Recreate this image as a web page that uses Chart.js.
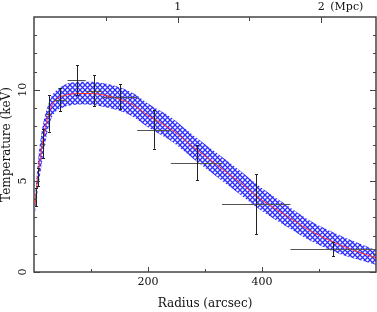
<!DOCTYPE html>
<html><head><meta charset="utf-8">
<script src="https://cdn.jsdelivr.net/npm/chart.js@4/dist/chart.umd.min.js"></script>
<style>html,body{margin:0;padding:0;background:#fff;}#wrap{width:377px;height:312px;}</style>
</head><body><div id="wrap"><canvas id="c" width="377" height="312"></canvas></div>
<script>
// Model profile (arcsec) and temperature band (keV)
const modelR = [2, 5, 8, 12, 17, 23, 30, 40, 52, 65, 80, 100, 125, 150, 175, 200, 240, 280, 320, 360, 400, 440, 480, 520, 560, 600];
const modelT = [3.7, 4.7, 5.5, 6.5, 7.45, 8.35, 9.05, 9.5, 9.68, 9.77, 9.8, 9.8, 9.7, 9.5, 9.15, 8.6, 7.85, 6.85, 5.9, 4.95, 3.95, 3.15, 2.35, 1.72, 1.2, 0.78];
const upperT = [4.2, 5.4, 6.4, 7.4, 8.3, 9.0, 9.6, 10.0, 10.25, 10.4, 10.45, 10.45, 10.35, 10.15, 9.8, 9.25, 8.5, 7.5, 6.55, 5.6, 4.6, 3.75, 2.9, 2.25, 1.7, 1.2];
const lowerT = [3.2, 4.1, 4.8, 5.6, 6.6, 7.6, 8.4, 8.85, 9.05, 9.15, 9.2, 9.18, 9.05, 8.85, 8.5, 7.95, 7.2, 6.2, 5.25, 4.3, 3.35, 2.55, 1.8, 1.2, 0.75, 0.4];

// Measured temperatures with errors
const obsR    = [4, 7.5, 16.4, 25.7, 45.7, 75.7, 105, 150.3, 209.8, 285.2, 389.9, 524.8];
const obsRlo  = [2.5, 6, 13, 21, 35.3, 59, 90.6, 120, 181, 240, 330, 450];
const obsRhi  = [5.5, 9, 20, 31, 57.4, 90.6, 120, 181, 240, 330, 450, 600];
const obsT    = [4.1, 5.2, 7.05, 8.7, 9.47, 10.53, 9.96, 9.63, 7.82, 6.01, 3.72, 1.25];
const obsTerr = [0.5, 0.5, 0.8, 1.0, 0.64, 0.82, 0.84, 0.69, 1.05, 0.96, 1.65, 0.38];

// Axis ticks
const xMajorTicks = [200, 400];
const xMinorTicks = [100, 300, 500];
const yMajorTicks = [0, 5, 10];
const yMinorTicks = [1, 2, 3, 4, 6, 7, 8, 9, 11, 12, 13];
const mpcMajorTicks = [1, 2];
const mpcMinorTicks = [0.5, 1.5];
const mpcLabels = ['1', '2'];
const arcsecPerMpc = 252;

// cross-hatch pattern
function makePattern() {
  const p = document.createElement('canvas');
  p.width = 5; p.height = 5;
  const g = p.getContext('2d');
  g.strokeStyle = 'rgba(35,35,255,0.95)';
  g.lineWidth = 1.3;
  g.beginPath();
  g.moveTo(-1, -1); g.lineTo(6, 6);
  g.moveTo(6, -1); g.lineTo(-1, 6);
  g.stroke();
  return g.createPattern(p, 'repeat');
}
const hatch = makePattern();

const FONT = '"DejaVu Serif", "Liberation Serif", serif';

const decor = {
  id: 'decor',
  afterDatasetsDraw(chart) {
    const ctx = chart.ctx, xs = chart.scales.x, ys = chart.scales.y;
    ctx.save();
    ctx.lineWidth = 1;
    for (let i = 0; i < obsR.length; i++) {
      const px = Math.round(xs.getPixelForValue(obsR[i])) + 0.5;
      const py = Math.round(ys.getPixelForValue(obsT[i])) + 0.5;
      const x1 = xs.getPixelForValue(obsRlo[i]), x2 = xs.getPixelForValue(obsRhi[i]);
      const y1 = ys.getPixelForValue(obsT[i] + obsTerr[i]), y2 = ys.getPixelForValue(obsT[i] - obsTerr[i]);
      ctx.strokeStyle = '#555';
      ctx.beginPath(); ctx.moveTo(x1, py); ctx.lineTo(x2, py); ctx.stroke();
      ctx.strokeStyle = '#222';
      ctx.beginPath();
      ctx.moveTo(px, y1); ctx.lineTo(px, y2);
      ctx.moveTo(px - 1.5, Math.round(y1) + 0.5); ctx.lineTo(px + 1.5, Math.round(y1) + 0.5);
      ctx.moveTo(px - 1.5, Math.round(y2) + 0.5); ctx.lineTo(px + 1.5, Math.round(y2) + 0.5);
      ctx.stroke();
    }
    ctx.restore();
  },
  afterDraw(chart) {
    const ctx = chart.ctx, xs = chart.scales.x, ys = chart.scales.y, xt = chart.scales.x2;
    const a = chart.chartArea;
    ctx.save();
    ctx.strokeStyle = '#444';
    ctx.lineWidth = 1.5;
    ctx.strokeRect(a.left, a.top, a.right - a.left, a.bottom - a.top);
    ctx.lineWidth = 1;
    ctx.beginPath();
    const vt = (x, len) => { ctx.moveTo(x, a.bottom); ctx.lineTo(x, a.bottom - len); };
    const tt = (x, len) => { ctx.moveTo(x, a.top); ctx.lineTo(x, a.top + len); };
    const lt = (y, len) => { ctx.moveTo(a.left, y); ctx.lineTo(a.left + len, y); ctx.moveTo(a.right, y); ctx.lineTo(a.right - len, y); };
    xMajorTicks.forEach(v => vt(Math.round(xs.getPixelForValue(v)) + 0.5, 5));
    xMinorTicks.forEach(v => vt(Math.round(xs.getPixelForValue(v)) + 0.5, 3));
    mpcMajorTicks.forEach(v => tt(Math.round(xt.getPixelForValue(v)) + 0.5, 6));
    mpcMinorTicks.forEach(v => tt(Math.round(xt.getPixelForValue(v)) + 0.5, 4));
    yMajorTicks.forEach(v => lt(Math.round(ys.getPixelForValue(v)) + 0.5, 6));
    yMinorTicks.forEach(v => lt(Math.round(ys.getPixelForValue(v)) + 0.5, 3));
    ctx.stroke();

    ctx.fillStyle = '#111';
    ctx.font = '11px ' + FONT;
    ctx.textAlign = 'center';
    ctx.textBaseline = 'middle';
    xMajorTicks.forEach(v => ctx.fillText(String(v), xs.getPixelForValue(v), 282));
    mpcMajorTicks.forEach((v, i) => {
      ctx.textAlign = 'center';
      ctx.fillText(mpcLabels[i], xt.getPixelForValue(v), 7);
      if (i === mpcMajorTicks.length - 1) {
        ctx.textAlign = 'left';
        ctx.fillText('(Mpc)', xt.getPixelForValue(v) + 9, 7);
      }
    });
    yMajorTicks.forEach(v => {
      ctx.save();
      ctx.translate(23.5, ys.getPixelForValue(v));
      ctx.rotate(-Math.PI / 2);
      ctx.textAlign = 'center';
      ctx.fillText(String(v), 0, 0);
      ctx.restore();
    });
    ctx.font = '12px ' + FONT;
    ctx.textAlign = 'center';
    ctx.fillText('Radius (arcsec)', (a.left + a.right) / 2, 304);
    ctx.save();
    ctx.translate(7, (a.top + a.bottom) / 2);
    ctx.rotate(-Math.PI / 2);
    ctx.fillText('Temperature (keV)', 0, 0);
    ctx.restore();
    ctx.restore();
  }
};

const pts = arr => modelR.map((r, i) => ({ x: r, y: arr[i] }));

new Chart(document.getElementById('c'), {
  type: 'line',
  data: {
    datasets: [
      { data: pts(upperT), order: 2, borderWidth: 0, pointRadius: 0, fill: '+1', backgroundColor: hatch, cubicInterpolationMode: 'monotone' },
      { data: pts(lowerT), order: 2, borderWidth: 0, pointRadius: 0, fill: false, cubicInterpolationMode: 'monotone' },
      { data: pts(modelT), order: 1, borderColor: '#ff3030', borderWidth: 1, pointRadius: 0, fill: false, cubicInterpolationMode: 'monotone' }
    ]
  },
  options: {
    responsive: false,
    animation: false,
    devicePixelRatio: 1,
    layout: { padding: { left: 34, top: 17, right: 1, bottom: 40 } },
    plugins: { legend: { display: false }, tooltip: { enabled: false } },
    scales: {
      x: { type: 'linear', min: 0, max: 600, display: false },
      x2: { type: 'linear', position: 'top', min: 0, max: 600 / arcsecPerMpc, display: false },
      y: { type: 'linear', min: 0, max: 14, display: false }
    }
  },
  plugins: [decor]
});
</script></body></html>
